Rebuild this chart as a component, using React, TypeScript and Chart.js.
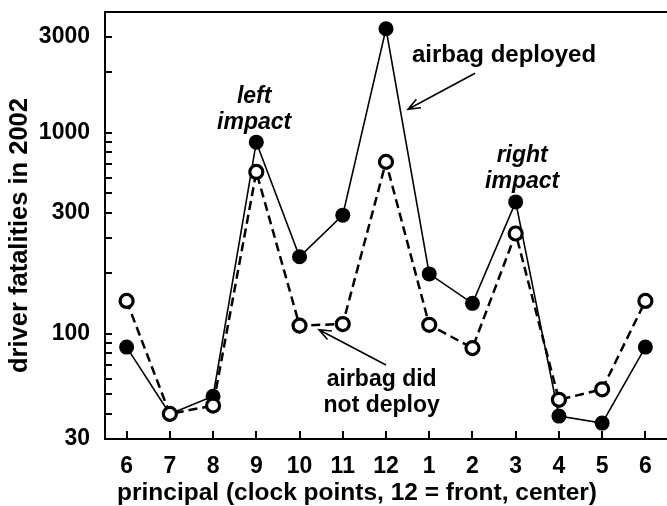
import React, { useEffect, useRef } from "react";
import { Chart, registerables } from "chart.js";
Chart.register(...registerables);

const clockLabels = ["6", "7", "8", "9", "10", "11", "12", "1", "2", "3", "4", "5", "6"];
const deployed = [86, 40, 49, 900, 242, 390, 3300, 199, 142, 454, 39, 36, 86];
const notDeployed = [146, 40, 44, 640, 110, 112, 718, 111, 85, 316, 47, 53, 146];
const yTickValues = [30, 40, 50, 60, 70, 80, 90, 100, 200, 300, 400, 500, 600, 700, 800, 900, 1000, 2000, 3000];
const yLabelValues = [30, 100, 400, 1000, 3000];
const yLabelTexts = ["30", "100", "300", "1000", "3000"];
const yMin = 30;
const yMax = 4000;

const xTitle = "principal (clock points, 12 = front, center)";
const yTitle = "driver fatalities in 2002";

const noteLines = [["left", "impact"], ["right", "impact"], ["airbag deployed"], ["airbag did", "not deploy"]];
const noteX = [2.95, 9.15, 8.73, 5.9];
const noteY = [1300, 668, 2432, 51];
const noteItalic = [true, true, false, false];
const arrowFromX = [8.06, 6.0];
const arrowFromY = [1982, 70];
const arrowToX = [6.51, 4.45];
const arrowToY = [1312, 105];

const FONT = "'Liberation Sans', Arial, sans-serif";
const FS = 23;

const decorPlugin = {
  id: "decor",
  afterDraw(chart: any) {
    const { ctx, chartArea, scales } = chart;
    const xs = scales.x;
    const ys = scales.y;
    ctx.save();
    ctx.strokeStyle = "#000";
    ctx.lineWidth = 2;
    // top frame
    ctx.beginPath();
    ctx.moveTo(chartArea.left - 1, chartArea.top);
    ctx.lineTo(chartArea.right, chartArea.top);
    ctx.stroke();
    // inward y ticks
    yTickValues.forEach((v) => {
      const py = Math.round(ys.getPixelForValue(v));
      ctx.beginPath();
      ctx.moveTo(chartArea.left, py);
      ctx.lineTo(chartArea.left + 7, py);
      ctx.stroke();
    });
    // inward x ticks
    clockLabels.forEach((_, i) => {
      const px = Math.round(xs.getPixelForValue(i));
      ctx.beginPath();
      ctx.moveTo(px, chartArea.bottom);
      ctx.lineTo(px, chartArea.bottom - 8);
      ctx.stroke();
    });
    ctx.fillStyle = "#000";
    ctx.textAlign = "center";
    ctx.textBaseline = "middle";
    // axis titles
    ctx.font = "bold 24.5px " + FONT;
    ctx.fillText(xTitle, (chartArea.left + chartArea.right) / 2 - 29, chart.height - 13);
    ctx.save();
    ctx.translate(20, (chartArea.top + chartArea.bottom) / 2 + 10);
    ctx.rotate(-Math.PI / 2);
    ctx.font = "bold 25.5px " + FONT;
    ctx.fillText(yTitle, 0, 0);
    ctx.restore();
    // notes
    noteLines.forEach((lines, k) => {
      ctx.font = (noteItalic[k] ? "italic " : "") + "bold " + (k === 2 ? 24 : FS) + "px " + FONT;
      const cx = xs.getPixelForValue(noteX[k]);
      const cy = ys.getPixelForValue(noteY[k]);
      const lh = 26;
      lines.forEach((t, j) => {
        ctx.fillText(t, cx, cy + (j - (lines.length - 1) / 2) * lh);
      });
    });
    // arrows
    ctx.lineWidth = 1.6;
    arrowFromX.forEach((_, k) => {
      const x1 = xs.getPixelForValue(arrowFromX[k]);
      const y1 = ys.getPixelForValue(arrowFromY[k]);
      const x2 = xs.getPixelForValue(arrowToX[k]);
      const y2 = ys.getPixelForValue(arrowToY[k]);
      const a = Math.atan2(y2 - y1, x2 - x1);
      const L = 13;
      const w = 0.38;
      ctx.beginPath();
      ctx.moveTo(x1, y1);
      ctx.lineTo(x2, y2);
      ctx.moveTo(x2 - L * Math.cos(a - w), y2 - L * Math.sin(a - w));
      ctx.lineTo(x2, y2);
      ctx.lineTo(x2 - L * Math.cos(a + w), y2 - L * Math.sin(a + w));
      ctx.stroke();
    });
    ctx.restore();
  },
};

export default function App() {
  const ref = useRef<HTMLCanvasElement | null>(null);
  useEffect(() => {
    document.body.style.margin = "0";
    const chart = new Chart(ref.current as HTMLCanvasElement, {
      type: "line",
      data: {
        labels: clockLabels,
        datasets: [
          {
            label: "airbag did not deploy",
            data: notDeployed,
            borderColor: "#000",
            borderWidth: 2.5,
            borderDash: [9, 5],
            pointRadius: 6.5,
            pointBorderWidth: 3.2,
            pointBackgroundColor: "#fff",
            pointBorderColor: "#000",
            tension: 0,
            order: 0,
            clip: false as any,
          },
          {
            label: "airbag deployed",
            data: deployed,
            borderColor: "#000",
            borderWidth: 1.6,
            pointRadius: 7.5,
            pointBorderWidth: 0,
            pointBackgroundColor: "#000",
            pointBorderColor: "#000",
            tension: 0,
            order: 1,
            clip: false as any,
          },
        ],
      },
      options: {
        animation: false,
        responsive: true,
        maintainAspectRatio: false,
        layout: { autoPadding: false, padding: { top: 12, right: 0, left: 0, bottom: 0 } },
        plugins: { legend: { display: false }, tooltip: { enabled: false } },
        scales: {
          x: {
            type: "category",
            offset: true,
            grid: { display: false, drawTicks: false },
            border: { display: true, color: "#000", width: 2 },
            ticks: {
              color: "#000",
              padding: 14,
              font: { family: FONT, size: FS, weight: "bold" },
              maxRotation: 0,
              autoSkip: false,
            },
            afterFit: (s: any) => {
              s.height = 67;
              s.paddingLeft = 0;
              s.paddingRight = 0;
            },
          },
          y: {
            type: "logarithmic",
            min: yMin,
            max: yMax,
            grid: { display: false, drawTicks: false },
            border: { display: true, color: "#000", width: 2 },
            afterBuildTicks: (s: any) => {
              s.ticks = yTickValues.map((v) => ({ value: v }));
            },
            ticks: {
              color: "#000",
              padding: 15,
              autoSkip: false,
              font: { family: FONT, size: FS, weight: "bold" },
              callback: (v: any) => {
                const i = yLabelValues.indexOf(Number(v));
                return i >= 0 ? yLabelTexts[i] : "";
              },
            },
            afterFit: (s: any) => {
              s.width = 105;
              s.paddingTop = 0;
              s.paddingBottom = 0;
            },
          },
        },
      },
      plugins: [decorPlugin],
    });
    return () => chart.destroy();
  }, []);
  return (
    <div style={{ position: "fixed", left: 0, top: 0, width: 667, height: 506 }}>
      <canvas ref={ref} />
    </div>
  );
}
